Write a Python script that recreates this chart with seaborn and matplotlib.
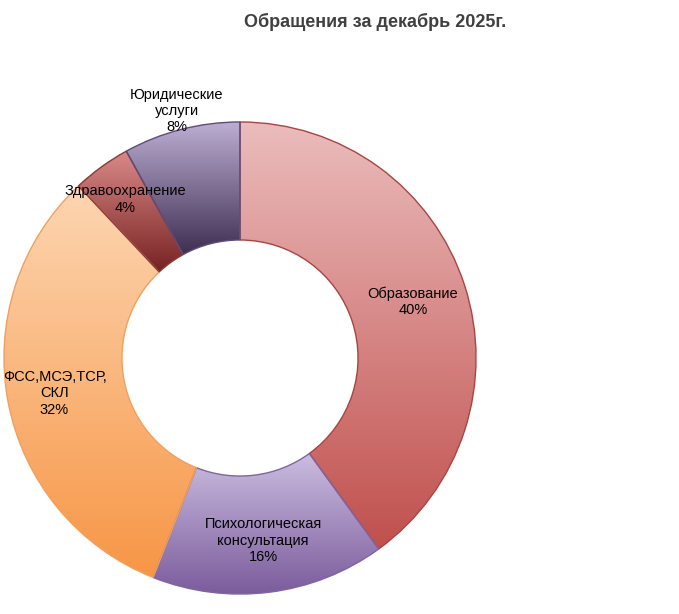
import numpy as np
import matplotlib
matplotlib.use("Agg")
import matplotlib.pyplot as plt
import matplotlib.colors as mcolors
import seaborn as sns

labels = ["Образование", "Психологическая\nконсультация", "ФСС,МСЭ,ТСР,\nСКЛ", "Здравоохранение", "Юридические\nуслуги"]
values = [40, 16, 32, 4, 8]
top_colors = ["#ebbcbc", "#cbbde0", "#fdd6b2", "#d98a88", "#bcaed2"]
bot_colors = ["#c0504d", "#7b5c9c", "#f79646", "#772222", "#3e2f52"]
edge_colors = ["#a94441", "#8064a2", "#f0a060", "#8a3a38", "#5f4b7a"]
label_dist = [0.77, 0.78, 0.80, 0.83, 1.08]

sns.set_style("white")
plt.rcParams['font.family'] = ['Liberation Sans', 'DejaVu Sans']

fig = plt.figure(figsize=(6.79, 6.14), dpi=100)
ax = fig.add_axes([0, 0, 1, 1])
ax.set_xlim(0, 679)
ax.set_ylim(0, 614)
ax.set_aspect('equal')
ax.axis('off')

cx, cy, R = 240, 256, 236
wedges, _ = ax.pie(values, startangle=90, counterclock=False, radius=R, center=(cx, cy),
                   explode=[0.035] * 5, wedgeprops=dict(width=R * 0.5, linewidth=1),
                   frame=True)
ax.set_xlim(0, 679)
ax.set_ylim(0, 614)
ax.axis('off')

for w, tc, bc, ec, lab, v, ld in zip(wedges, top_colors, bot_colors, edge_colors, labels, values, label_dist):
    w.set_facecolor('none')
    w.set_edgecolor(ec)
    cmap = mcolors.LinearSegmentedColormap.from_list("g", [bc, tc])
    grad = np.linspace(0, 1, 256).reshape(-1, 1)
    bb = w.get_path().get_extents(w.get_transform()).transformed(ax.transData.inverted())
    im = ax.imshow(grad, cmap=cmap, origin='lower', aspect='auto',
                   extent=[bb.x0, bb.x1, bb.y0, bb.y1], zorder=0.5)
    im.set_clip_path(w)
    ang = np.deg2rad((w.theta1 + w.theta2) / 2)
    ax.text(w.center[0] + ld * R * np.cos(ang), w.center[1] + ld * R * np.sin(ang),
            f"{lab}\n{v}%", ha='center', va='center', fontsize=10.5, color='black', zorder=3)

ax.set_xlim(0, 679)
ax.set_ylim(0, 614)
fig.text(0.553, 0.965, "Обращения за декабрь 2025г.", ha='center', va='center',
         fontsize=13, fontweight='bold', color='#404040')
fig.savefig("out.png", dpi=100)
